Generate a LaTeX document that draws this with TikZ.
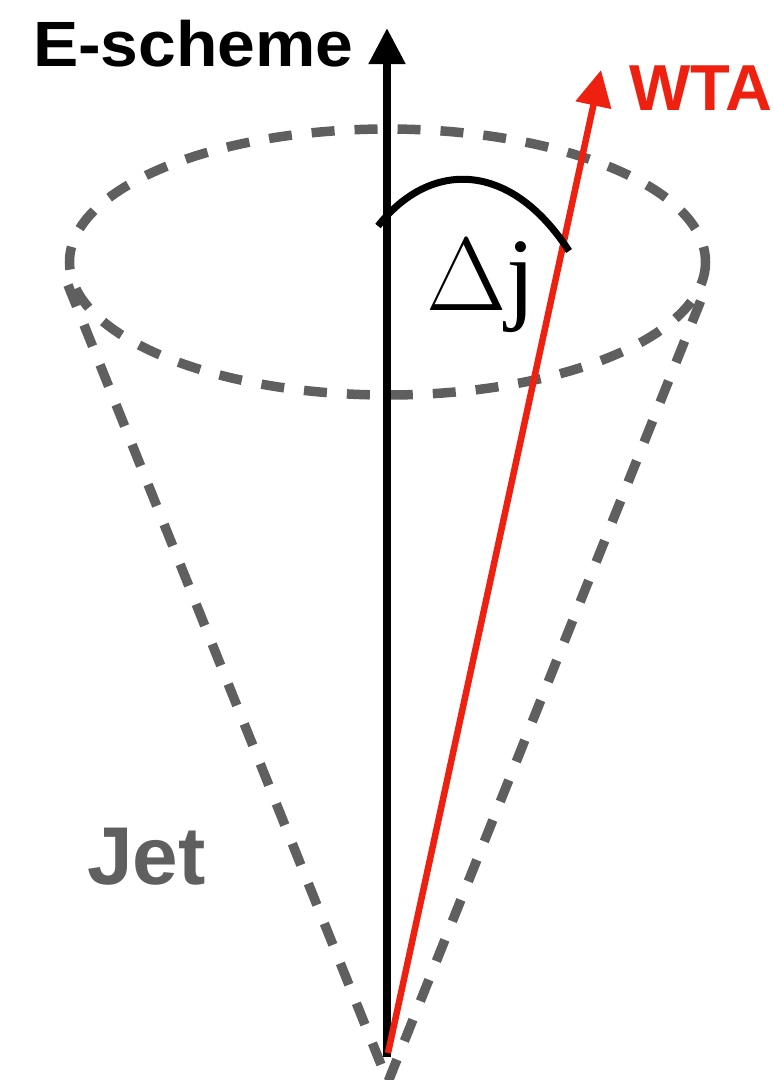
\RequirePackage{fix-cm}
\documentclass[tikz,border=0pt]{standalone}
\usepackage{fontspec}
\setmainfont{Liberation Serif}
\newfontfamily\labelfont{Liberation Sans}
\usetikzlibrary{arrows.meta}
\definecolor{conegray}{RGB}{95,95,95}
\definecolor{wtared}{RGB}{238,32,16}
\tikzset{
  conedash/.style={draw=conegray, line width=9.5pt, dash pattern=on 23pt off 20pt},
  axisarrow/.style={line width=8pt, -{Triangle[length=36pt,width=35pt]}},
  lbl/.style={inner sep=0pt, outer sep=0pt}
}
\begin{document}
\begin{tikzpicture}[x=1pt,y=-1pt]
\useasboundingbox (0,0) rectangle (774,1080);
\clip (0,0) rectangle (774,1080);
% coordinates
\coordinate (apex) at (388,1082);
\coordinate (cl) at (68,285);
\coordinate (cr) at (707,285);
\coordinate (ec) at (387.5,262);
\coordinate (ebot) at (387,1057);
\coordinate (etip) at (387,28);
\coordinate (wbot) at (388,1053);
\coordinate (wtip) at (601,70);
\coordinate (arcA) at (378,226);
\coordinate (arcB) at (569,251);
% cone
\draw[conedash] (ec) ellipse [x radius=318, y radius=133];
\draw[conedash] (cl) -- (apex) -- (cr);
% axes
\draw[axisarrow, black] (ebot) -- (etip);
\draw[axisarrow, wtared, line width=6.5pt] (wbot) -- (wtip);
% arc
\draw[line width=7pt] (arcA) .. controls (430,160) and (510,160) .. (arcB);
% labels
\node[lbl, anchor=base west, text=black, xscale=1.06] (escheme) at (33,66)
  {\labelfont\bfseries\fontsize{64}{64}\selectfont E-scheme};
\node[lbl, anchor=base west, text=wtared] (wta) at (629,110)
  {\labelfont\bfseries\fontsize{65}{65}\selectfont WTA};
\node[lbl, anchor=base west, text=conegray] (jet) at (87,884)
  {\labelfont\bfseries\fontsize{82}{82}\selectfont Jet};
\node[lbl, anchor=base west] (dj) at (426,310)
  {\fontsize{104}{104}\selectfont $\Delta$j};
\end{tikzpicture}
\end{document}
